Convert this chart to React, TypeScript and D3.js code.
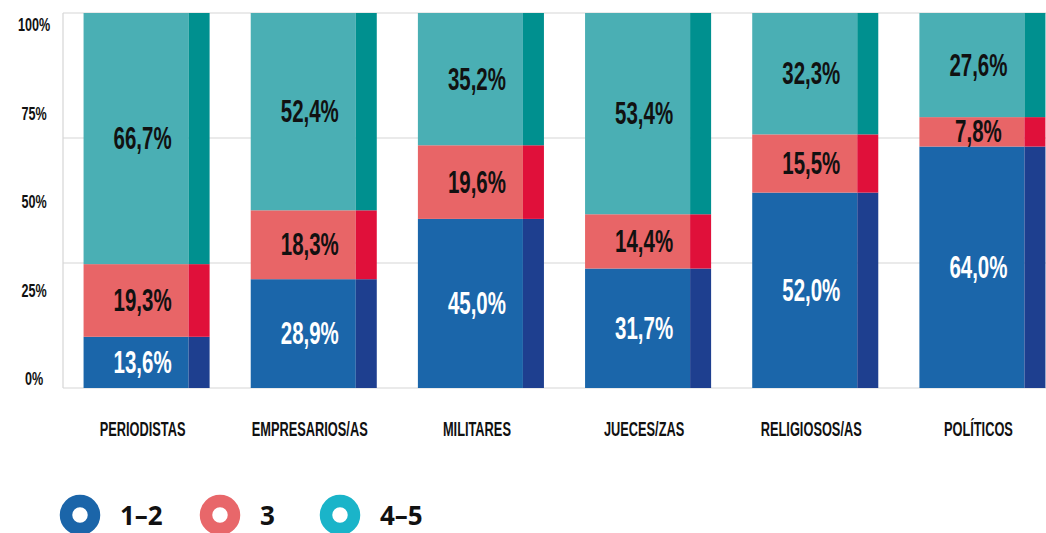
import React from 'react';
import * as d3 from 'd3';

// categories and shares (%)
const categories = ['PERIODISTAS', 'EMPRESARIOS/AS', 'MILITARES', 'JUECES/ZAS', 'RELIGIOSOS/AS', 'POLÍTICOS'];
const low = [13.6, 28.9, 45.0, 31.7, 52.0, 64.0];
const mid = [19.3, 18.3, 19.6, 14.4, 15.5, 7.8];
const high = [66.7, 52.4, 35.2, 53.4, 32.3, 27.6];
const seriesNames = ['1–2', '3', '4–5'];
const yTickValues = [0, 25, 50, 75, 100];

const W = 1046;
const H = 533;

const colors = {
  '1–2': { main: '#1b66aa', strip: '#1e3f8f', legend: '#1b65a9', text: '#ffffff' },
  '3': { main: '#e86567', strip: '#e0103a', legend: '#e8676a', text: '#111111' },
  '4–5': { main: '#4aafb4', strip: '#00908f', legend: '#1ab4c9', text: '#111111' },
};

const condensed = '"Liberation Sans", Arial, sans-serif';

const fmt = (v: number) => v.toFixed(1).replace('.', ',') + '%';

export default function App() {
  const rows = categories.map((c, i) => ({ cat: c, '1–2': low[i], '3': mid[i], '4–5': high[i] }));
  const stack = d3.stack<any>().keys(seriesNames).offset(d3.stackOffsetExpand);
  const series = stack(rows);

  const x = d3.scaleBand().domain(categories).range([63, 1066]).paddingInner(0.246).paddingOuter(0.123);
  const y = d3.scaleLinear().domain([0, 1]).range([388, 13]);
  // tick labels sit on their own evenly spaced column
  const yLabel = d3.scaleLinear().domain([0, 100]).range([379, 25]);
  const grid = d3.range(4).map(i => i / 3);

  const bw = x.bandwidth();
  const stripW = bw / 6;

  return (
    <svg width={W} height={H} style={{ position: 'absolute', left: 0, top: 0, display: 'block', background: '#fff' }}>
      {grid.map(g => (
        <line key={g} x1={63} x2={W} y1={y(g)} y2={y(g)} stroke="#d6d6d6" strokeWidth={1.2} />
      ))}
      <line x1={63} x2={63} y1={y(0)} y2={y(1)} stroke="#d6d6d6" strokeWidth={1.2} />

      {yTickValues.map(v => (
        <text key={v} transform={`translate(34,${yLabel(v)}) scale(0.7,1)`} textAnchor="middle"
          dominantBaseline="central" fontFamily={condensed} fontWeight="bold" fontSize={18} fill="#111">
          {v + '%'}
        </text>
      ))}

      {series.map(s => {
        const c = (colors as any)[s.key];
        return (
          <g key={s.key}>
            {s.map((d, i) => {
              const cat = categories[i];
              const x0 = x(cat)!;
              const y0 = y(d[1]);
              const h = y(d[0]) - y(d[1]);
              return (
                <g key={cat}>
                  <rect x={x0} y={y0} width={bw - stripW} height={h} fill={c.main} />
                  <rect x={x0 + bw - stripW} y={y0} width={stripW} height={h} fill={c.strip} />
                </g>
              );
            })}
          </g>
        );
      })}

      {series.map(s => {
        const c = (colors as any)[s.key];
        return (
          <g key={'lab' + s.key}>
            {s.map((d, i) => {
              const cat = categories[i];
              const cx = x(cat)! + bw / 2 - 4;
              const cy = (y(d[0]) + y(d[1])) / 2;
              return (
                <text key={cat} transform={`translate(${cx},${cy}) scale(0.66,1)`} textAnchor="middle"
                  dominantBaseline="central" fontFamily={condensed} fontWeight="bold" fontSize={31} fill={c.text}>
                  {fmt((d.data as any)[s.key])}
                </text>
              );
            })}
          </g>
        );
      })}

      {categories.map(cat => (
        <text key={cat} transform={`translate(${x(cat)! + bw / 2 - 4},436) scale(0.64,1)`} textAnchor="middle"
          fontFamily={condensed} fontWeight="bold" fontSize={20} fill="#111">
          {cat}
        </text>
      ))}

      {seriesNames.map((name, i) => {
        const cx = [80, 220, 340][i];
        const c = (colors as any)[name];
        return (
          <g key={'leg' + name}>
            <circle cx={cx} cy={515} r={14} fill="none" stroke={c.legend} strokeWidth={12.5} />
            <text x={cx + 40} y={525} fontFamily='"Open Sans", sans-serif' fontWeight="bold" fontSize={26} fill="#111">
              {name}
            </text>
          </g>
        );
      })}
    </svg>
  );
}
